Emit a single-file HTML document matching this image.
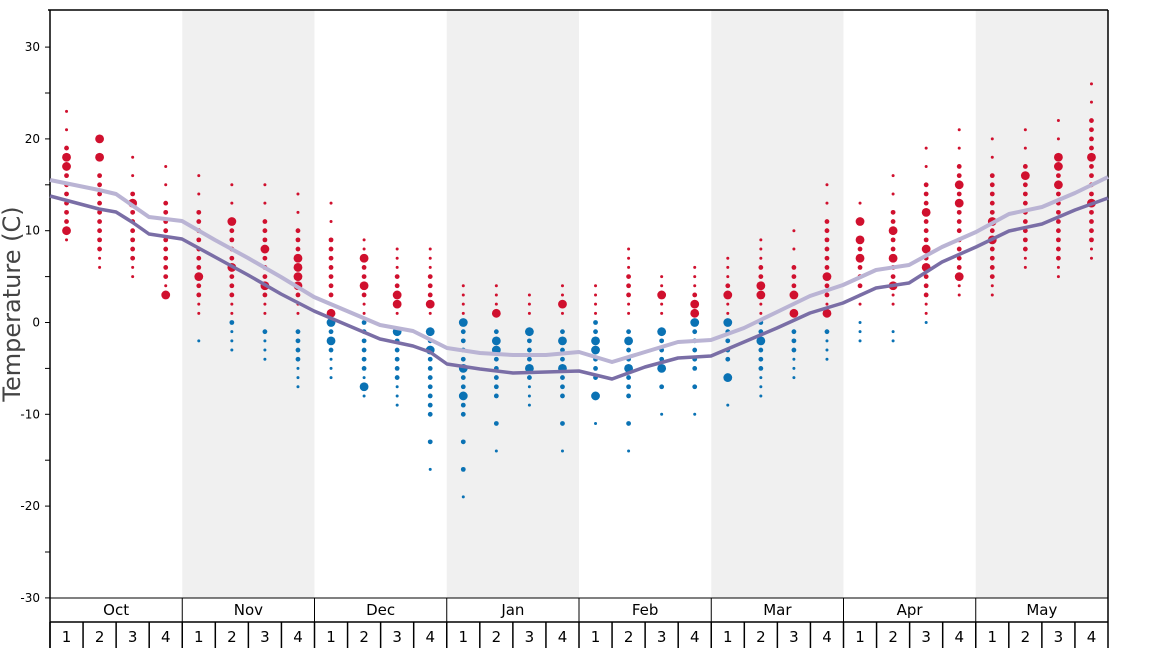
<!DOCTYPE html>
<html><head><meta charset="utf-8"><style>
html,body{margin:0;padding:0;background:#fff;}
svg{display:block;font-family:"DejaVu Sans","Liberation Sans",sans-serif;}
</style></head><body>
<svg id="s" width="1168" height="648" xmlns="http://www.w3.org/2000/svg">
<g id="bg"></g>
<g id="ax"></g>
<g id="dots"></g>
<g id="lines"></g>
</svg>
<script>
const NS="http://www.w3.org/2000/svg";
function el(p,t,a,txt){const e=document.createElementNS(NS,t);for(const k in a)e.setAttribute(k,a[k]);if(txt!==undefined)e.textContent=txt;document.getElementById(p).appendChild(e);return e;}
const X0=50,X1=1108,MW=(X1-X0)/8,WW=MW/4;
const Y=t=>322.5-t*9.18;
const months=["Oct","Nov","Dec","Jan","Feb","Mar","Apr","May"];
for(let m=0;m<8;m++){
  if(m%2==1) el("bg","rect",{x:X0+m*MW,y:10,width:MW,height:588,fill:"#f0f0f0"});
}
el("ax","line",{x1:X0,y1:10,x2:X0,y2:648,stroke:"#000","stroke-width":1.5});
el("ax","line",{x1:X0-2,y1:10,x2:X1,y2:10,stroke:"#000","stroke-width":1.5});
el("ax","line",{x1:X1,y1:10,x2:X1,y2:648,stroke:"#000","stroke-width":1.5});
el("ax","line",{x1:X0,y1:598,x2:X1,y2:598,stroke:"#000","stroke-width":1});
el("ax","line",{x1:X0,y1:622,x2:X1,y2:622,stroke:"#000","stroke-width":1.5});
for(let t=-30;t<=35;t+=5){
  if(Y(t)<10)continue;
  el("ax","line",{x1:X0-5,y1:Y(t),x2:X0,y2:Y(t),stroke:"#000","stroke-width":1});
  if(t%10==0) el("ax","text",{x:40,y:Y(t)+4,"text-anchor":"end","font-size":12,fill:"#000"},t);
}
el("ax","text",{x:0,y:0,"font-size":24,fill:"#444","text-anchor":"middle",transform:"translate(20,304) rotate(-90)"},"Temperature (C)");
for(let m=0;m<8;m++){
  const x=X0+m*MW;
  if(m>0) el("ax","line",{x1:x,y1:598,x2:x,y2:622,stroke:"#000","stroke-width":1});
  el("ax","text",{x:x+MW/2,y:615,"text-anchor":"middle","font-size":15,fill:"#000"},months[m]);
  for(let w=0;w<4;w++){
    const wx=x+w*WW;
    el("ax","line",{x1:wx,y1:622,x2:wx,y2:648,stroke:"#000","stroke-width":1.5});
    el("ax","text",{x:wx+WW/2,y:642,"text-anchor":"middle","font-size":15,fill:"#000"},w+1);
  }
}
const D=[
[23,9,null,null,[18,17,10]],[20,6,null,null,[18,20]],[18,5,null,null,[15,13]],[17,3,null,null,[16,3]],
[16,1,-2,-2,[13,5]],[15,1,0,-3,[11,6]],[15,1,-1,-4,[8,4]],[14,1,-1,-7,[5,6,7,4]],
[13,1,0,-6,[1,0,-2]],[9,1,0,-8,[7,4,-7]],[8,1,-1,-9,[3,2,-1]],[8,1,-1,-16,[2,-3,-1]],
[4,1,0,-19,[0,-5,-8]],[4,1,-1,-14,[1,-2,-3]],[3,1,-1,-9,[-5,-1]],[4,1,-1,-14,[2,-2,-5]],
[4,1,0,-11,[-2,-3,-8]],[8,1,-1,-14,[-2,-5]],[5,1,-1,-10,[3,-1,-5]],[6,1,0,-10,[1,2,0]],
[7,1,0,-9,[3,0,-6]],[9,1,0,-8,[4,3,-2]],[10,1,-1,-6,[3,1]],[15,1,-1,-4,[5,1]],
[13,2,0,-2,[7,9,11]],[16,2,-1,-2,[10,7,4]],[19,1,0,0,[12,8,6]],[21,3,null,null,[15,13,5]],
[20,3,null,null,[11,17,9]],[21,6,null,null,[18,16]],[22,5,null,null,[18,17,15]],[26,7,null,null,[18,13]]];
const RED="#d0102e",BLUE="#0a72b4";
D.forEach((d,i)=>{
  const cx=X0+WW*(i+0.5);
  const [rM,rm,bM,bm,big]=d;
  for(let t=rm;t<=rM;t++){
    if(t>rM-5 && t<rM && (rM-t)%2==1 && rM-rm>8) continue;
    let r=(t>rM-3||t<rm+2)?1.5:2.4;
    if(big.includes(t)) r=4.4;
    el("dots","circle",{cx:cx,cy:Y(t),r:r,fill:RED});
  }
  if(bM!==null){
    const span=bM-bm;
    for(let t=bm;t<=bM;t++){
      if(span>8 && t<bm+span*0.45 && t>bm && (t-bm)%3!=0) continue;
      let r=(t<bm+3)?1.5:2.4;
      if(big.includes(t)) r=4.4;
      el("dots","circle",{cx:cx,cy:Y(t),r:r,fill:BLUE});
    }
  }
});
const light=[[50,180],[99,190],[116,194],[149,217],[182,221],[215,240],[248,258],[281,277],[314,297],[347,311],[380,325],[413,331],[447,348],[480,353],[513,355],[546,355],[579,352],[612,362],[645,352],[678,342],[711,340],[744,328],[777,312],[810,296],[843,285],[876,270],[909,265],[942,247],[976,232],[1009,214],[1042,207],[1075,193],[1108,177]];
const dark=[[50,196],[99,209],[116,212],[132,222],[149,234],[182,239],[215,257],[248,275],[281,294],[314,311],[347,325],[380,339],[413,346],[430,352],[447,364],[480,369],[513,373],[546,372],[579,371],[612,379],[645,367],[678,358],[711,356],[744,342],[777,328],[810,313],[843,303],[876,288],[909,283],[942,262],[976,247],[1009,231],[1042,224],[1075,210],[1108,198]];
el("lines","polyline",{points:light.map(p=>p.join(",")).join(" "),fill:"none",stroke:"#bab4d4","stroke-width":4,"stroke-linejoin":"round"});
el("lines","polyline",{points:dark.map(p=>p.join(",")).join(" "),fill:"none",stroke:"#7a6ea6","stroke-width":3.5,"stroke-linejoin":"round"});
</script>
</body></html>
